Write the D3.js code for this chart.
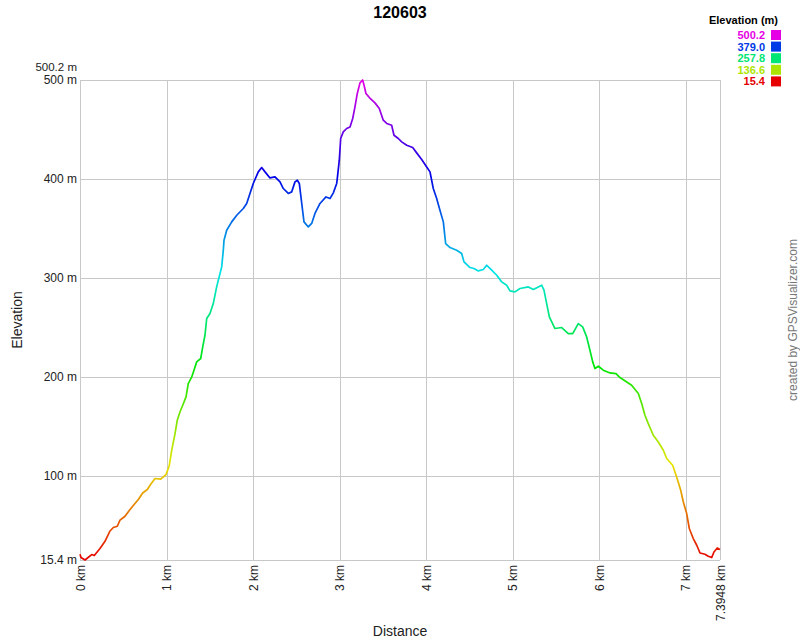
<!DOCTYPE html>
<html><head><meta charset="utf-8">
<script src="https://cdn.jsdelivr.net/npm/d3@7"></script>
<style>body{margin:0;background:#fff}text{font-family:"Liberation Sans",Arial,sans-serif}</style>
</head><body><svg id="c" width="800" height="640"></svg>
<script>
const title = "120603";
const distKm = [0.000,0.012,0.058,0.135,0.165,0.231,0.289,0.347,0.385,0.431,0.462,0.520,0.578,0.635,0.674,0.724,0.778,0.817,0.867,0.932,0.994,1.020,1.032,1.060,1.098,1.124,1.155,1.187,1.225,1.251,1.291,1.317,1.348,1.395,1.418,1.444,1.464,1.502,1.540,1.579,1.598,1.637,1.656,1.664,1.695,1.753,1.811,1.887,1.926,1.964,2.002,2.060,2.099,2.138,2.195,2.253,2.311,2.349,2.407,2.446,2.484,2.511,2.534,2.562,2.588,2.638,2.677,2.715,2.773,2.842,2.889,2.927,2.966,2.975,2.996,3.012,3.042,3.081,3.120,3.151,3.177,3.204,3.235,3.266,3.282,3.304,3.343,3.408,3.458,3.504,3.544,3.601,3.628,3.678,3.717,3.775,3.844,3.890,3.948,4.006,4.044,4.082,4.121,4.159,4.198,4.225,4.275,4.352,4.410,4.437,4.506,4.552,4.602,4.660,4.699,4.757,4.815,4.872,4.930,4.968,5.026,5.084,5.180,5.238,5.335,5.361,5.392,5.423,5.488,5.566,5.642,5.693,5.757,5.808,5.854,5.892,5.924,5.950,5.989,6.046,6.124,6.193,6.239,6.317,6.374,6.451,6.490,6.528,6.566,6.624,6.682,6.740,6.779,6.848,6.894,6.941,6.971,7.010,7.040,7.086,7.126,7.164,7.221,7.259,7.299,7.325,7.363,7.3948];
const elevM = [21.2,17.9,15.4,20.9,19.9,27.0,34.3,44.7,48.2,49.5,55.6,59.6,66.4,72.4,76.5,83.1,86.6,91.9,97.7,97.0,101.7,107.8,111.1,126.3,143.1,156.6,164.9,171.7,180.1,193.6,200.3,207.1,215.5,218.9,230.6,242.4,259.3,264.3,274.4,291.2,298.0,311.4,328.3,338.4,348.5,356.9,363.6,370.4,375.5,385.6,395.7,407.4,411.8,407.4,401.3,402.3,397.3,390.6,385.6,387.2,397.3,399.0,395.7,375.5,356.9,351.8,355.3,365.4,375.5,382.1,380.5,386.2,395.7,402.3,419.2,441.1,447.8,451.2,452.8,461.3,473.0,486.6,497.3,500.2,494.9,486.6,482.5,477.1,471.4,459.6,456.3,454.5,444.4,441.1,437.7,434.3,432.0,426.6,419.9,412.4,407.4,390.6,380.5,368.7,356.9,335.0,331.0,328.3,324.9,316.5,310.8,309.8,307.4,308.8,313.1,308.1,303.0,296.3,292.9,287.2,286.2,289.6,291.2,288.6,292.9,287.9,274.4,260.9,249.2,250.2,244.1,244.1,254.2,250.8,240.7,227.3,215.5,208.8,211.1,207.1,204.3,203.7,199.7,195.2,191.9,183.5,173.4,161.6,153.2,141.4,134.6,126.3,117.9,111.1,99.3,85.9,74.0,62.3,47.2,37.1,30.3,22.5,21.2,19.2,17.9,23.5,27.6,26.0];
const yTicks = [100,200,300,400,500];
const xTicks = [0,1,2,3,4,5,6,7];
const elevMin = 15.4, elevMax = 500.2, distMax = 7.3948;
const legendVals = [500.2,379.0,257.8,136.6,15.4];

const svg = d3.select("#c");
const L = 80, R = 720, T = 80, B = 560;
const x = d3.scaleLinear().domain([0, distMax]).range([L, R]);
const y = d3.scaleLinear().domain([elevMin, elevMax]).range([B, T]);
const hue = d3.scaleLinear().domain([elevMin, elevMax]).range([0, 300]);
const col = v => d3.hsl(hue(v), 1, 0.45).formatHex();

// grid
const grid = svg.append("g").attr("stroke", "#c8c8c8").attr("stroke-width", 1).attr("shape-rendering","crispEdges");
[...yTicks, elevMin].forEach(v => grid.append("line").attr("x1", L).attr("x2", R).attr("y1", Math.round(y(v))+0.5).attr("y2", Math.round(y(v))+0.5));
[...xTicks, distMax].forEach(v => grid.append("line").attr("y1", T).attr("y2", B).attr("x1", Math.round(x(v))+0.5).attr("x2", Math.round(x(v))+0.5));
grid.append("line").attr("x1", L).attr("x2", R).attr("y1", y(elevMax)+0.5).attr("y2", y(elevMax)+0.5);

// y labels
const yl = svg.append("g").attr("font-size", 12).attr("fill", "#222").attr("text-anchor", "end");
yTicks.forEach(v => yl.append("text").attr("x", L-3).attr("y", y(v)+4).text(v + " m"));
yl.append("text").attr("x", L-3).attr("y", y(elevMin)+4).text(elevMin + " m");
yl.append("text").attr("x", L-3).attr("y", y(elevMax)-9.5).attr("font-size", 11.5).text(elevMax + " m");

// x labels
const xl = svg.append("g").attr("font-size", 12).attr("fill", "#222").attr("text-anchor", "end");
[...xTicks, distMax].forEach(v => xl.append("text")
  .attr("transform", `translate(${x(v)+4.5},${B+5}) rotate(-90)`).text(v + " km"));

// axis titles
svg.append("text").attr("x", 400).attr("y", 636).attr("text-anchor","middle").attr("font-size", 14).attr("fill","#222").text("Distance");
svg.append("text").attr("transform", "translate(22,320) rotate(-90)").attr("text-anchor","middle").attr("font-size", 14).attr("fill","#222").text("Elevation");
svg.append("text").attr("x", 400).attr("y", 18).attr("text-anchor","middle").attr("font-size", 16).attr("font-weight","bold").text(title);
svg.append("text").attr("transform", "translate(797,320) rotate(-90)").attr("text-anchor","middle").attr("font-size", 12).attr("fill","#777").text("created by GPSVisualizer.com");

// gradient
const grad = svg.append("defs").append("linearGradient").attr("id","eg")
  .attr("gradientUnits","userSpaceOnUse").attr("x1",0).attr("x2",0).attr("y1",y(elevMin)).attr("y2",y(elevMax));
d3.range(0, 1.0001, 0.05).forEach(t => grad.append("stop").attr("offset", t).attr("stop-color", col(elevMin + t*(elevMax-elevMin))));

const data = distKm.map((d,i) => [d, elevM[i]]);
svg.append("path").datum(data).attr("fill","none").attr("stroke","url(#eg)").attr("stroke-width",1.7)
  .attr("stroke-linejoin","round")
  .attr("d", d3.line().x(d => x(d[0])).y(d => y(d[1])));

// legend
const lg = svg.append("g");
lg.append("text").attr("x", 778).attr("y", 24).attr("text-anchor","end").attr("font-size", 11).attr("font-weight","bold").text("Elevation (m)");
legendVals.forEach((v,i) => {
  const cy = 35 + i*11.6;
  lg.append("text").attr("x", 765).attr("y", cy+4).attr("text-anchor","end").attr("font-size", 11).attr("font-weight","bold").attr("fill", col(v)).text(v.toFixed(1));
  lg.append("rect").attr("x", 771).attr("y", cy-5).attr("width", 10).attr("height", 10).attr("fill", col(v));
});
</script></body></html>
